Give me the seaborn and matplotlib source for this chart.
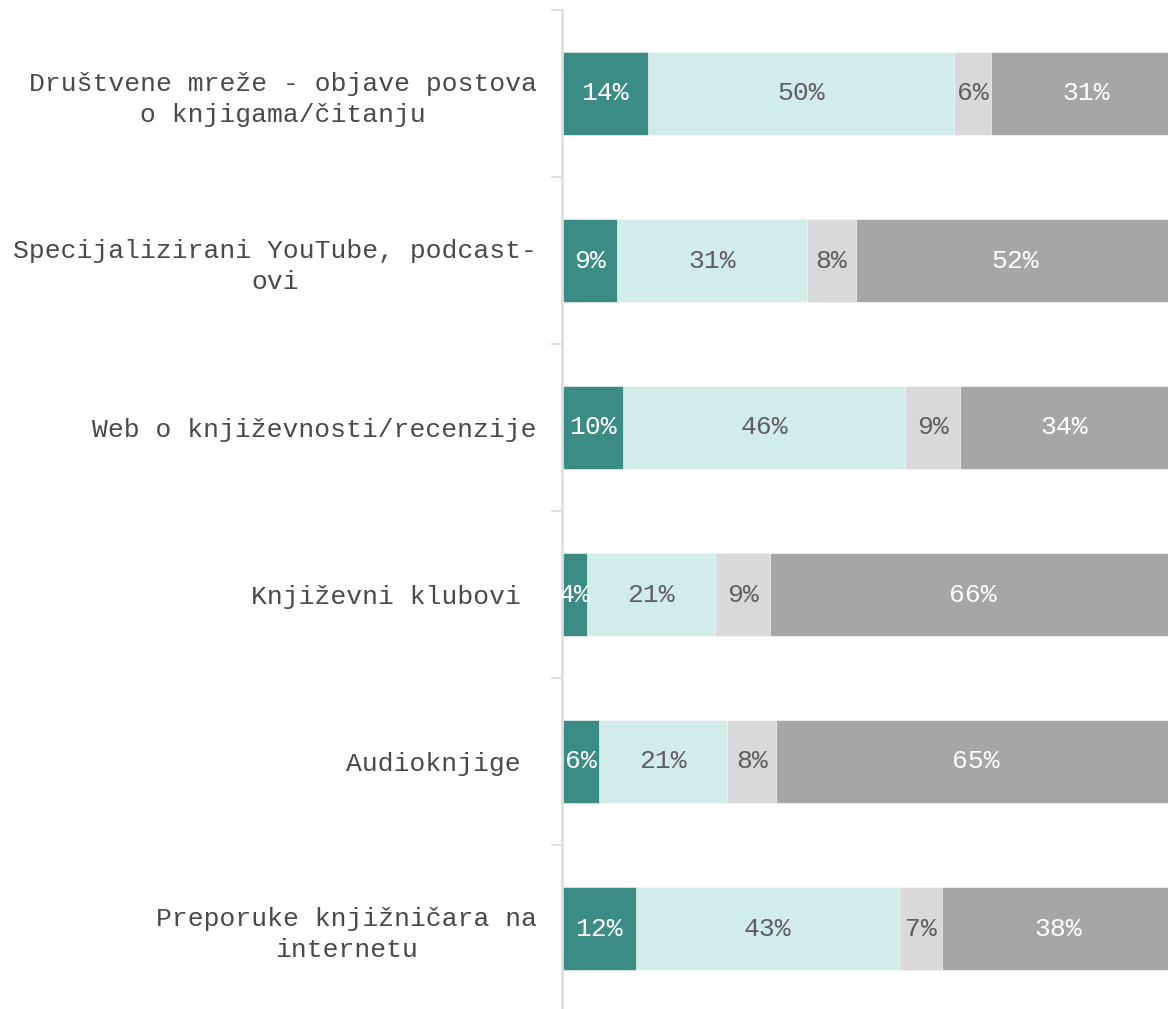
import matplotlib
matplotlib.use("Agg")
import matplotlib.pyplot as plt
import seaborn as sns
import pandas as pd
import numpy as np

categories = [
    "Društvene mreže - objave postova\no knjigama/čitanju",
    "Specijalizirani YouTube, podcast-\novi",
    "Web o književnosti/recenzije",
    "Književni klubovi ",
    "Audioknjige ",
    "Preporuke knjižničara na\ninternetu",
]
seg1 = [14, 9, 10, 4, 6, 12]
seg2 = [50, 31, 46, 21, 21, 43]
seg3 = [6, 8, 9, 9, 8, 7]
seg4 = [31, 52, 34, 66, 65, 38]

colors = ["#3a8c84", "#d2ecea", "#d9d9d9", "#a6a6a6"]
text_colors = ["white", "#5f5f5f", "#5f5f5f", "white"]

sns.set_style("white")
plt.rcParams["font.family"] = ["Liberation Mono", "DejaVu Sans Mono"]

segs = np.array([seg1, seg2, seg3, seg4], dtype=float)
cum = segs.cumsum(axis=0)

fig = plt.figure(figsize=(11.68, 10.09), dpi=100)
ax = fig.add_axes([562 / 1168, -3 / 1009, 1 - 562 / 1168, 1002 / 1009])

# stacked bars: draw cumulative totals from the longest down
for i in range(3, -1, -1):
    df = pd.DataFrame({"cat": categories, "val": cum[i]})
    sns.barplot(data=df, x="val", y="cat", orient="h", color=colors[i],
                width=0.5, saturation=1, edgecolor="white", linewidth=0.4,
                ax=ax)

for i in range(4):
    for j in range(len(categories)):
        center = cum[i][j] - segs[i][j] / 2
        ax.text(center, j, f"{int(segs[i][j])}%", ha="center", va="center",
                fontsize=19, color=text_colors[i])

ax.set_xlim(0, 98.9)
ax.set_ylim(5.5, -0.5)
ax.set_xlabel("")
ax.set_ylabel("")
ax.set_xticks([])
ax.set_yticks(range(len(categories)))
ax.set_yticklabels(categories, fontsize=19, color="#4a4a4a",
                   multialignment="center", linespacing=1.35)
ax.tick_params(axis="y", which="major", length=0, pad=18)
ax.set_yticks(np.arange(-0.5, 6, 1), minor=True)
ax.tick_params(axis="y", which="minor", left=True, length=8, width=1.5,
               color="#e0e0e0")
for s in ["top", "right", "bottom"]:
    ax.spines[s].set_visible(False)
ax.spines["left"].set_color("#e0e0e0")
ax.spines["left"].set_linewidth(2)

fig.savefig("out.png", dpi=100)
